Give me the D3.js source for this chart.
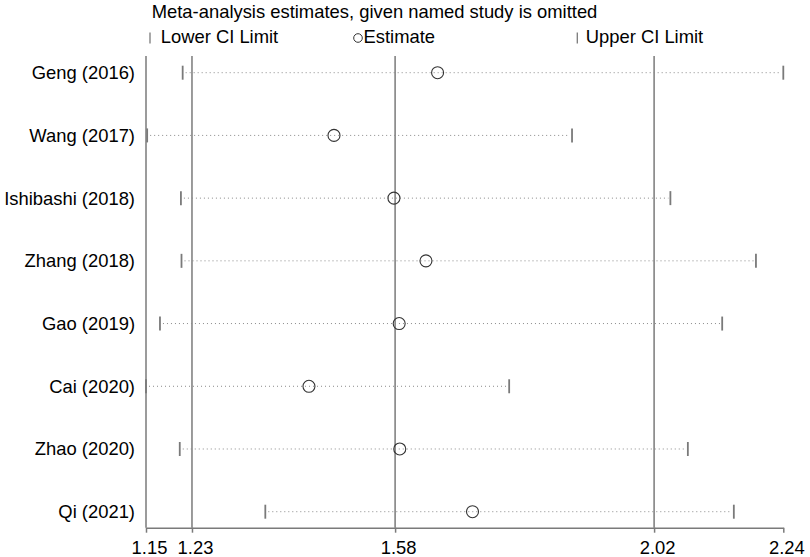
<!DOCTYPE html>
<html>
<head>
<meta charset="utf-8">
<script src="https://cdn.jsdelivr.net/npm/d3@7"></script>
<style>
  body { margin: 0; background: #fff; }
  svg { display: block; font-family: "Liberation Sans", Arial, sans-serif; }
</style>
</head>
<body>
<div id="chart"></div>
<script>
const width = 810,
    height = 557,
    margin = ({ top: 56, right: 26.7, bottom: 29.3, left: 146 });

// studies (omitted one per row) and the estimates
const studies = ["Geng (2016)", "Wang (2017)", "Ishibashi (2018)", "Zhang (2018)",
                 "Gao (2019)", "Cai (2020)", "Zhao (2020)", "Qi (2021)"];
const lower    = [1.211, 1.150, 1.208, 1.209, 1.172, 1.148, 1.206, 1.353];
const estimate = [1.649, 1.471, 1.574, 1.629, 1.583, 1.428, 1.584, 1.709];
const upper    = [2.243, 1.880, 2.049, 2.196, 2.138, 1.772, 2.079, 2.158];

// pooled result (all studies)
const overall = [1.227, 1.576, 2.021];  // lower CI, estimate, upper CI

const svg = d3.select("#chart")
    .append("svg")
    .attr("width", width)
    .attr("height", height)
    .attr("viewBox", [0, 0, width, height]);

const data = studies.map((s, i) => ({ name: s, i: i, lo: lower[i], est: estimate[i], hi: upper[i] }));

const xmin = d3.min(lower), xmax = d3.max(upper);

let x = d3.scaleLinear()
    .domain([xmin, xmax])
    .range([margin.left, width - margin.right]);

let y = d3.scaleLinear()
    .domain([0, studies.length - 1])
    .range([72.7, 511.7]);

const axisBottomY = height - margin.bottom;
const grey = "#7a7a7a";

// tick values: min lower, pooled CI + estimate, max upper
const tickVals = [xmin, overall[0], overall[1], overall[2], xmax];

// vertical reference lines for pooled estimate and CI
svg.append("g")
  .selectAll("line")
  .data(overall)
  .join("line")
    .attr("x1", d => x(d))
    .attr("x2", d => x(d))
    .attr("y1", margin.top)
    .attr("y2", axisBottomY)
    .attr("stroke", grey)
    .attr("stroke-width", 1.5);

// left axis line
svg.append("line")
    .attr("x1", x(xmin)).attr("x2", x(xmin))
    .attr("y1", margin.top).attr("y2", axisBottomY)
    .attr("stroke", grey)
    .attr("stroke-width", 1.5);

// bottom axis
const xAxis = svg.append("g")
    .attr("transform", `translate(0,${axisBottomY})`)
    .call(d3.axisBottom(x).tickValues(tickVals).tickFormat(d3.format(".2f"))
          .tickSize(5).tickSizeOuter(0).tickPadding(8));
xAxis.select(".domain").attr("stroke", grey).attr("stroke-width", 1.5);
xAxis.selectAll(".tick line").attr("stroke", grey).attr("stroke-width", 1.5);
xAxis.selectAll("text").attr("font-size", "18.4px").attr("fill", "#000")
    .attr("dx", 3)
    .attr("font-family", "'Liberation Sans', Arial, sans-serif");

// study labels
const yAxis = svg.append("g")
    .attr("transform", `translate(${x(xmin)},0)`)
    .call(d3.axisLeft(y).tickValues(d3.range(studies.length)).tickFormat(i => studies[i])
          .tickSize(0).tickPadding(11));
yAxis.select(".domain").remove();
yAxis.selectAll("text").attr("font-size", "18.4px").attr("fill", "#000")
    .attr("font-family", "'Liberation Sans', Arial, sans-serif");

// dotted CI lines
const rows = svg.append("g");
rows.selectAll(".ci")
  .data(data)
  .join("line")
    .attr("class", "ci")
    .attr("x1", d => x(d.lo) + 3)
    .attr("x2", d => x(d.hi) - 2)
    .attr("y1", d => y(d.i))
    .attr("y2", d => y(d.i))
    .attr("stroke", "#8a8a8a")
    .attr("stroke-width", 1)
    .attr("stroke-dasharray", "1,3");

// CI end caps
rows.selectAll(".cap")
  .data(data.flatMap(d => [{ v: d.lo, i: d.i }, { v: d.hi, i: d.i }]))
  .join("line")
    .attr("class", "cap")
    .attr("x1", d => x(d.v))
    .attr("x2", d => x(d.v))
    .attr("y1", d => y(d.i) - 7)
    .attr("y2", d => y(d.i) + 7)
    .attr("stroke", grey)
    .attr("stroke-width", 1.8);

// estimates
rows.selectAll("circle")
  .data(data)
  .join("circle")
    .attr("cx", d => x(d.est))
    .attr("cy", d => y(d.i))
    .attr("r", 6)
    .attr("fill", "none")
    .attr("stroke", "#333")
    .attr("stroke-width", 1.1);

// title
svg.append("text")
    .attr("x", 151.7)
    .attr("y", 18.3)
    .attr("font-size", "18.4px")
    .text("Meta-analysis estimates, given named study is omitted");

// legend
const legendY = 38;
const legend = svg.append("g");
legend.append("line")
    .attr("x1", 150).attr("x2", 150)
    .attr("y1", legendY - 5.5).attr("y2", legendY + 5.5)
    .attr("stroke", grey).attr("stroke-width", 1.3);
legend.append("text").attr("x", 160.7).attr("y", 43.3).attr("font-size", "18.4px").text("Lower CI Limit");
legend.append("circle")
    .attr("cx", 358).attr("cy", legendY).attr("r", 4.3)
    .attr("fill", "none").attr("stroke", "#333").attr("stroke-width", 1);
legend.append("text").attr("x", 363.5).attr("y", 43.3).attr("font-size", "18.4px").text("Estimate");
legend.append("line")
    .attr("x1", 577.3).attr("x2", 577.3)
    .attr("y1", legendY - 5.5).attr("y2", legendY + 5.5)
    .attr("stroke", grey).attr("stroke-width", 1.3);
legend.append("text").attr("x", 585.7).attr("y", 43.3).attr("font-size", "18.4px").text("Upper CI Limit");
</script>
</body>
</html>
